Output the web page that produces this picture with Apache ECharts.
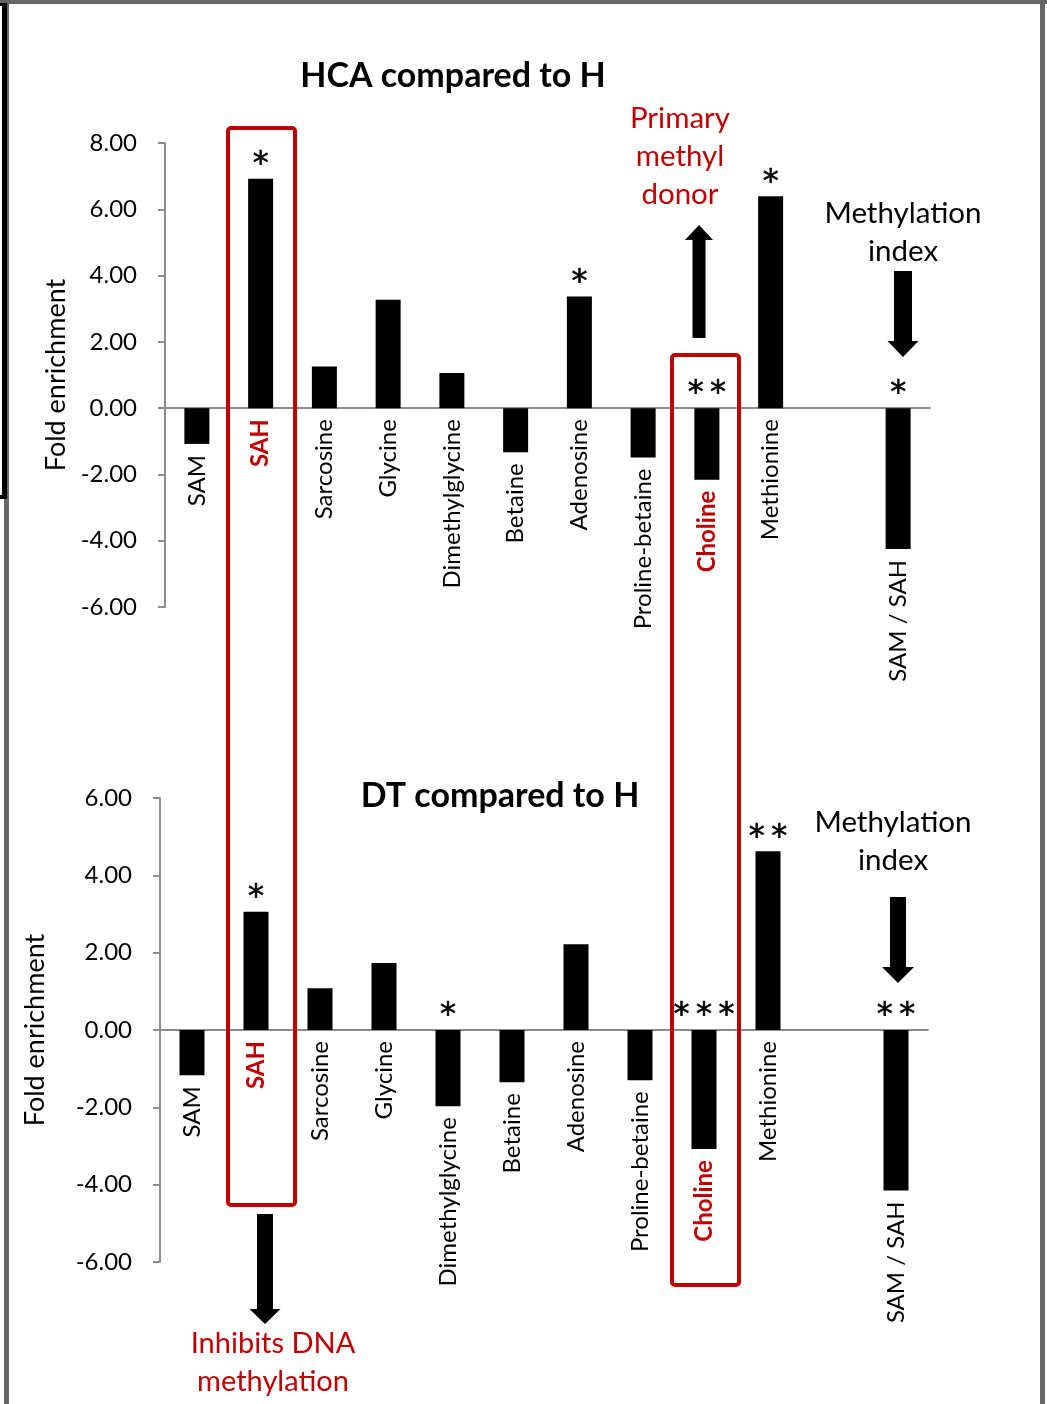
<!DOCTYPE html>
<html>
<head>
<meta charset="utf-8">
<script src="https://cdn.jsdelivr.net/npm/echarts@6/dist/echarts.min.js"></script>
<style>
  html, body { margin: 0; padding: 0; background: #fff; }
  #chart { width: 1047px; height: 1404px; }
</style>
</head>
<body>
<div id="chart"></div>
<script>
// Metabolites on the x axis; the empty slot separates the methylation index
const categories = ['SAM', 'SAH', 'Sarcosine', 'Glycine', 'Dimethylglycine', 'Betaine',
  'Adenosine', 'Proline-betaine', 'Choline', 'Methionine', '', 'SAM / SAH'];

// Fold enrichment, HCA vs H
const hcaValues = [-1.08, 6.92, 1.26, 3.27, 1.06, -1.33, 3.37, -1.49, -2.16, 6.39, null, -4.25];
// Fold enrichment, DT vs H
const dtValues = [-1.17, 3.06, 1.08, 1.73, -1.97, -1.35, 2.22, -1.30, -3.08, 4.62, null, -4.15];

// Significance marks
const hcaStars = ['', '*', '', '', '', '', '*', '', '**', '*', '', '*'];
const dtStars = ['', '*', '', '', '*', '', '', '', '***', '**', '', '**'];

// Categories drawn in bold red
const highlighted = ['SAH', 'Choline'];

const FONT = 'Lato, "Open Sans", sans-serif';
const STAR_FONT = '"DejaVu Sans", sans-serif';
const RED = '#C00000';
const AXIS_GREY = '#8c8c8c';

const chart = echarts.init(document.getElementById('chart'), null, { renderer: 'canvas' });

function barData(values) {
  return values.map(v => (v === null ? '-' : v));
}

// Category names sit under the bar (or under the zero line for positive bars);
// significance stars sit over the bar (or over the zero line for negative bars).
function labelRenderer(values, stars) {
  return function (params, api) {
    const i = params.dataIndex;
    const v = values[i];
    if (v === null) return null;
    const low = api.coord([i, Math.min(v, 0)]);
    const high = api.coord([i, Math.max(v, 0)]);
    const name = categories[i];
    const hi = highlighted.indexOf(name) >= 0;
    const children = [{
      type: 'text',
      x: low[0],
      y: low[1] + 11,
      rotation: Math.PI / 2,
      style: {
        text: name,
        align: 'right',
        verticalAlign: 'middle',
        font: (hi ? 'bold ' : '') + '24px ' + FONT,
        fill: hi ? RED : '#000'
      }
    }];
    if (stars[i]) {
      children.push({
        type: 'text',
        x: high[0],
        y: high[1] - 14,
        style: {
          text: stars[i].split('').join('\u2009'),
          align: 'center',
          verticalAlign: 'middle',
          font: '32px ' + STAR_FONT,
          fill: '#000',
          stroke: '#000',
          lineWidth: 0.6
        }
      });
    }
    return { type: 'group', children: children };
  };
}

function yAxisCfg(gridIndex, min, max, nameGap) {
  return {
    type: 'value',
    gridIndex: gridIndex,
    min: min,
    max: max,
    interval: 2,
    name: 'Fold enrichment',
    nameLocation: 'middle',
    nameGap: nameGap,
    nameTextStyle: { fontFamily: FONT, fontSize: 27, color: '#000' },
    axisLine: { show: true, lineStyle: { color: AXIS_GREY, width: 2 } },
    axisTick: { show: true, length: 7, lineStyle: { color: AXIS_GREY, width: 2 } },
    splitLine: { show: false },
    axisLabel: {
      margin: 28,
      formatter: v => v.toFixed(2),
      fontFamily: FONT,
      fontSize: 24,
      color: '#000'
    }
  };
}

function xAxisCfg(gridIndex) {
  return {
    type: 'category',
    gridIndex: gridIndex,
    data: categories,
    axisLine: { onZero: true, lineStyle: { color: AXIS_GREY, width: 2 } },
    axisTick: { show: false },
    axisLabel: { show: false }
  };
}

function arrow(cx, yTop, yBottom, shaftW, headW, headH, up) {
  // vertical block arrow
  let pts;
  if (up) {
    pts = [[cx - shaftW / 2, yBottom], [cx - shaftW / 2, yTop + headH], [cx - headW / 2, yTop + headH],
      [cx, yTop], [cx + headW / 2, yTop + headH], [cx + shaftW / 2, yTop + headH], [cx + shaftW / 2, yBottom]];
  } else {
    pts = [[cx - shaftW / 2, yTop], [cx - shaftW / 2, yBottom - headH], [cx - headW / 2, yBottom - headH],
      [cx, yBottom], [cx + headW / 2, yBottom - headH], [cx + shaftW / 2, yBottom - headH], [cx + shaftW / 2, yTop]];
  }
  return { type: 'polygon', shape: { points: pts }, style: { fill: '#000' }, z: 10 };
}

function textBlock(x, y, text, color, size, weight) {
  return {
    type: 'text', x: x, y: y, z: 10,
    style: {
      text: text, align: 'center', verticalAlign: 'middle',
      font: (weight || 'normal') + ' ' + size + 'px ' + FONT,
      fill: color, lineHeight: 38
    }
  };
}

const option = {
  animation: false,
  backgroundColor: '#fff',
  grid: [
    { left: 165, top: 143, width: 765, height: 464 },
    { left: 160, top: 798, width: 768, height: 464 }
  ],
  xAxis: [xAxisCfg(0), xAxisCfg(1)],
  yAxis: [yAxisCfg(0, -6, 8, 93), yAxisCfg(1, -6, 6, 111)],
  series: [
    {
      type: 'bar', xAxisIndex: 0, yAxisIndex: 0,
      data: barData(hcaValues), barWidth: 25,
      itemStyle: { color: '#000' }
    },
    {
      type: 'bar', xAxisIndex: 1, yAxisIndex: 1,
      data: barData(dtValues), barWidth: 25,
      itemStyle: { color: '#000' }
    },
    {
      type: 'custom', xAxisIndex: 0, yAxisIndex: 0, clip: false, z: 5,
      data: hcaValues.map((v, i) => [i, v === null ? 0 : v]),
      renderItem: labelRenderer(hcaValues, hcaStars)
    },
    {
      type: 'custom', xAxisIndex: 1, yAxisIndex: 1, clip: false, z: 5,
      data: dtValues.map((v, i) => [i, v === null ? 0 : v]),
      renderItem: labelRenderer(dtValues, dtStars)
    }
  ],
  graphic: [
    // page frame
    { type: 'rect', shape: { x: 0, y: 0, width: 1047, height: 4 }, style: { fill: '#666' } },
    { type: 'rect', shape: { x: 4, y: 0, width: 5, height: 1404 }, style: { fill: '#666' } },
    { type: 'rect', shape: { x: 1040, y: 0, width: 5, height: 1404 }, style: { fill: '#666' } },
    { type: 'rect', shape: { x: 0, y: 3, width: 7, height: 3 }, style: { fill: '#000' }, z: 2 },
    { type: 'rect', shape: { x: 2, y: 3, width: 5, height: 496 }, style: { fill: '#000' }, z: 2 },
    { type: 'rect', shape: { x: 0, y: 495, width: 7, height: 4 }, style: { fill: '#000' }, z: 2 },

    // titles
    textBlock(453, 76, 'HCA compared to H', '#000', 34, 'bold'),
    textBlock(500, 796, 'DT compared to H', '#000', 34, 'bold'),

    // highlight boxes
    { type: 'rect', z: 8, shape: { x: 228, y: 128, width: 67, height: 1077, r: 3 },
      style: { fill: 'none', stroke: RED, lineWidth: 4 } },
    { type: 'rect', z: 8, shape: { x: 672, y: 355, width: 67, height: 930, r: 3 },
      style: { fill: 'none', stroke: RED, lineWidth: 4 } },

    // annotations
    textBlock(680, 156, 'Primary\nmethyl\ndonor', RED, 29.5),
    textBlock(903, 232, 'Methylation\nindex', '#000', 29.5),
    textBlock(893, 841, 'Methylation\nindex', '#000', 29.5),
    textBlock(273, 1363, 'Inhibits DNA\nmethylation', RED, 29),

    arrow(699, 225, 338, 13, 28, 15, true),
    arrow(903, 271, 357, 18, 31, 16, false),
    arrow(898, 897, 983, 16, 32, 16, false),
    arrow(265, 1214, 1324, 16, 31, 15, false)
  ]
};

chart.setOption(option);
</script>
</body>
</html>
